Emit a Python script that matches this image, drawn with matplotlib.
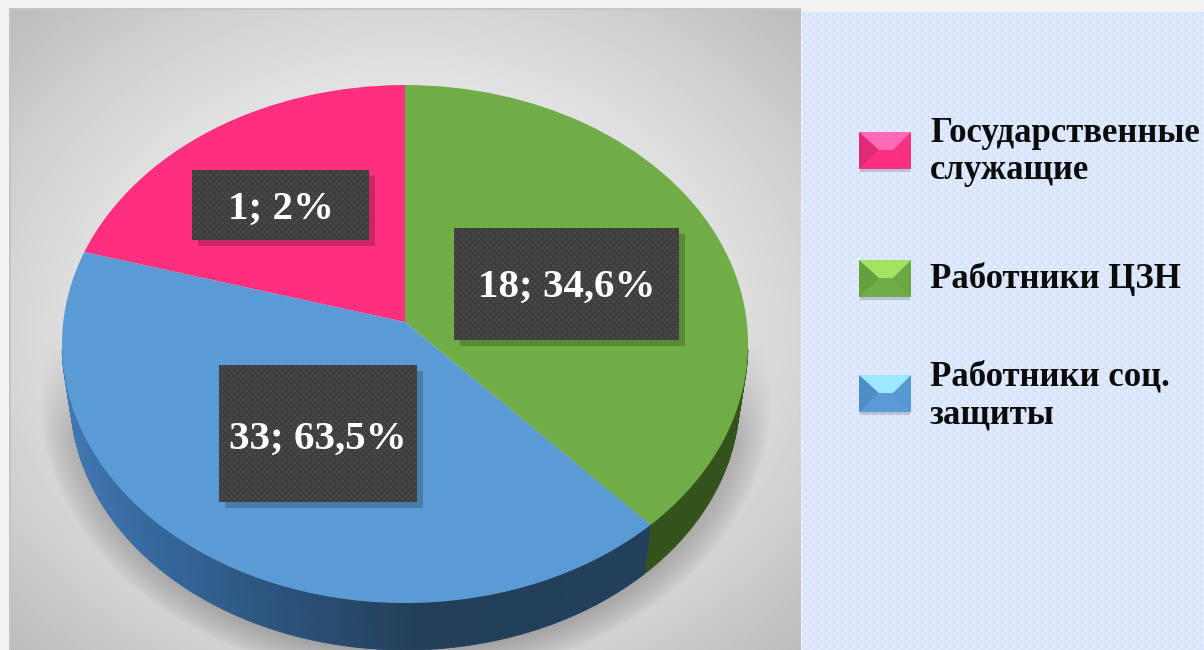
import numpy as np
import matplotlib
matplotlib.use("Agg")
import matplotlib.pyplot as plt
from matplotlib.collections import PolyCollection
from matplotlib.patches import Polygon, Rectangle
from matplotlib.path import Path
from matplotlib.transforms import Transform

categories = ["Государственные\nслужащие", "Работники ЦЗН", "Работники соц.\nзащиты"]
counts = [1, 18, 33]
percents = ["2", "34,6", "63,5"]
# the drawn slices do not follow the printed percents, these are read off the picture
slice_shares = [20.5, 38.25, 41.25]
slice_colors = ["#ff2f80", "#70ad47", "#5b9bd5"]
pie_order = [1, 2, 0]

bevel_top = ["#ff6ab8", "#a4e262", "#9be8ff"]
bevel_left = ["#e02a74", "#64a03e", "#4e8dc6"]
bevel_right = ["#f5307e", "#6aa843", "#5898d2"]

W, H = 1204, 650


class PiePerspective(Transform):
    input_dims = 2
    output_dims = 2
    has_inverse = False

    def __init__(self, scale=1.0, drop=0.0):
        super().__init__()
        self.scale = scale
        self.drop = drop

    def transform_non_affine(self, values):
        values = np.asarray(values, dtype=float)
        w = 1 + 0.085 * values[:, 1]
        x = 405 + self.scale * 341.8 * values[:, 0] / w
        y = 322 + self.drop - self.scale * 257.1 * values[:, 1] / w
        return np.column_stack([x, y])

    def transform_path_non_affine(self, path):
        return Path(self.transform_non_affine(path.vertices), path.codes)


def dots(width, height, step, base, dot):
    yy, xx = np.mgrid[0:height, 0:width]
    img = np.zeros((height, width, 3)) + np.array(matplotlib.colors.to_rgb(base))
    row = yy // (step // 2)
    dx = (xx + (row % 2) * (step // 2)) % step - step / 2
    dy = yy % (step // 2) - step / 4
    amount = np.clip(1.6 - np.hypot(dx, dy), 0, 1)[..., None]
    return img * (1 - amount) + np.array(matplotlib.colors.to_rgb(dot)) * amount


def chart_background():
    yy, xx = np.mgrid[8:H, 9:801]
    # soft grey radial fill of the chart panel
    r = np.hypot((xx - 405) / 395, (yy - 330) / 322) / np.sqrt(2)
    grey = 0.925 - 0.19 * np.clip((r - 0.35) / 0.65, 0, 1) ** 1.3
    # shadow under the pie
    d = np.hypot((xx - 405) / 366, (yy - 398) / 282)
    shade = np.clip((1 - d) / 0.13, 0, 1) ** 0.8 * 0.24
    shade = shade * np.clip((yy - 330) / 110, 0, 1)
    grey = grey - shade
    return grey


fig = plt.figure(figsize=(W / 100, H / 100), dpi=100, facecolor="#f2f2f2")
ax = fig.add_axes([0, 0, 1, 1])

wedges, _ = ax.pie(
    [slice_shares[i] for i in pie_order],
    colors=[slice_colors[i] for i in pie_order],
    startangle=90,
    counterclock=False,
    radius=1,
    wedgeprops={"linewidth": 0, "zorder": 5},
)
ax.set_aspect("auto")
ax.set_xlim(0, W)
ax.set_ylim(H, 0)
ax.axis("off")

ax.imshow(chart_background(), cmap="gray", vmin=0, vmax=1, extent=(9, 801, H, 8),
          aspect="auto", zorder=1, interpolation="bilinear")
ax.add_patch(Rectangle((9, 8), 792, 2, fc="#c6c6c6", ec="none", zorder=2))
ax.add_patch(Rectangle((9, 8), 1.5, H - 8, fc="#c4c4c4", ec="none", zorder=2))
ax.imshow(dots(W - 802, H - 12, 8, "#d9e5fd", "#f3f7ff"), extent=(802, W, H, 12),
          aspect="auto", zorder=1, interpolation="bilinear")

top = PiePerspective()
bottom = PiePerspective(scale=0.975, drop=54)
for wedge, i in zip(wedges, pie_order):
    wedge.set_transform(top + ax.transData)
    wedge.set_clip_on(False)

    # only the front of the rim shows, the pink slice has none
    if i == 0:
        continue
    angles = np.radians(np.linspace(wedge.theta1, wedge.theta2, 160))
    angles = angles[np.sin(angles) < -0.1]
    ring = np.column_stack([np.cos(angles), np.sin(angles)])
    upper = top.transform_non_affine(ring)
    lower = bottom.transform_non_affine(ring)
    quads = [[upper[j], upper[j + 1], lower[j + 1], lower[j]] for j in range(len(ring) - 1)]
    mid_x = upper[:-1, 0]
    if i == 2:
        r = np.interp(mid_x, [60, 150, 270, 420, 650], [0x42, 0x36, 0x2c, 0x22, 0x22])
        g = np.interp(mid_x, [60, 150, 270, 420, 650], [0x78, 0x68, 0x54, 0x3e, 0x40])
        b = np.interp(mid_x, [60, 150, 270, 420, 650], [0xb4, 0x9c, 0x7e, 0x58, 0x5c])
        colors = np.column_stack([r, g, b]) / 255
    else:
        colors = [matplotlib.colors.to_rgb("#33531a")] * len(quads)
    ax.add_collection(PolyCollection(quads, facecolors=colors, edgecolors=colors,
                                     linewidths=0.6, zorder=4))

# data labels
label_boxes = [(192, 170, 369, 240), (454, 228, 679, 340), (219, 365, 417, 502)]
label_base = [219, 297, 449]
for box, n, p, base_y in zip(label_boxes, counts, percents, label_base):
    x0, y0, x1, y1 = box
    ax.add_patch(Rectangle((x0 + 6, y0 + 6), x1 - x0, y1 - y0, fc="black", alpha=0.2,
                           ec="none", zorder=6))
    ax.imshow(dots(x1 - x0, y1 - y0, 6, "#3e3e3e", "#4d4d4d"), extent=(x0, x1, y1, y0),
              aspect="auto", zorder=7, interpolation="bilinear")
    ax.text((x0 + x1) / 2, base_y, f"{n}; {p}%", color="white", fontsize=29.5,
            fontweight="bold", family="Liberation Serif", ha="center", va="baseline", zorder=8)

# legend
icon_tops = [132, 260, 375]
icon_text = [(142, 179), (288,), (385, 423)]
for k, cat in enumerate(categories):
    x0, x1, y0 = 859, 911, icon_tops[k]
    y1 = y0 + 37
    mid = y0 + 18
    ax.add_patch(Rectangle((x0 + 1, y1), x1 - x0 - 2, 3, fc="#8f97a8", alpha=0.45, ec="none", zorder=3))
    ax.add_patch(Rectangle((x0, y0), x1 - x0, y1 - y0, fc=slice_colors[k], ec="none", zorder=4))
    ax.add_patch(Polygon([(x0, y0), (x0 + 20, mid), (x0, y1)], fc=bevel_left[k], ec="none", zorder=5))
    ax.add_patch(Polygon([(x1, y0), (x1 - 18, mid), (x1, y1)], fc=bevel_right[k], ec="none", zorder=5))
    ax.add_patch(Polygon([(x0, y0), (x1, y0), (x1 - 18, mid), (x0 + 20, mid)], fc=bevel_top[k],
                         ec="none", zorder=5))
    for line, base_y in zip(cat.split("\n"), icon_text[k]):
        ax.text(930, base_y, line, color="#0c0c0c", fontsize=25, fontweight="bold",
                family="Liberation Serif", ha="left", va="baseline", zorder=6)

ax.set_xlim(0, W)
ax.set_ylim(H, 0)
fig.savefig("out.png", dpi=100, facecolor=fig.get_facecolor())
